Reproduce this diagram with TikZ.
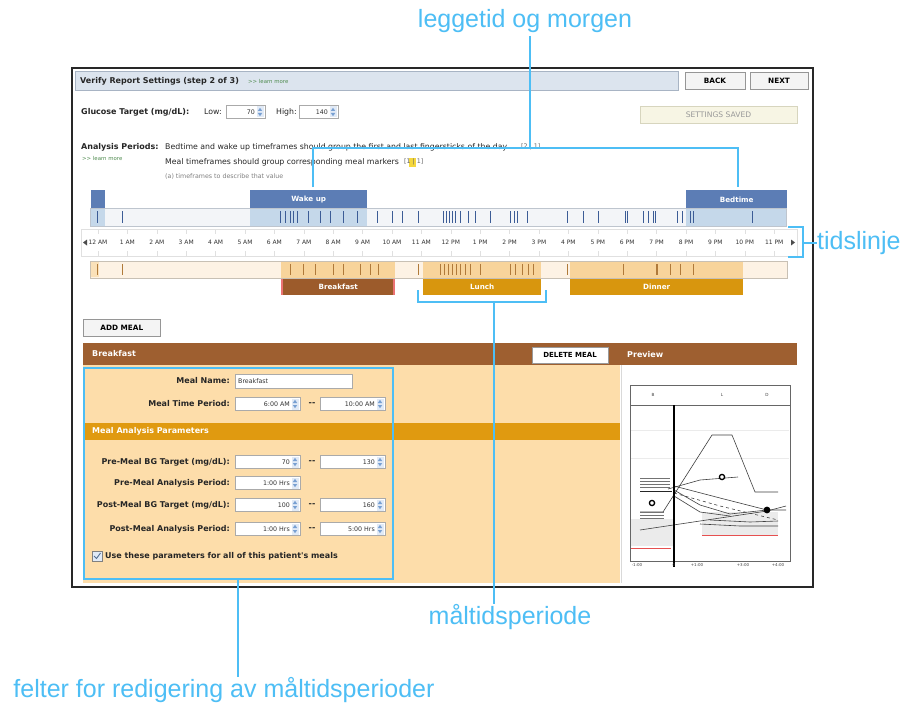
\documentclass[tikz,border=0pt]{standalone}
\usepackage{fontspec}
\setmainfont{Liberation Sans}
\newfontfamily\uifont{DejaVu Sans}
\usetikzlibrary{calc}

\definecolor{callout}{RGB}{77,190,245}
\definecolor{framegray}{RGB}{40,40,40}
\definecolor{titlebar}{RGB}{220,228,238}
\definecolor{titleline}{RGB}{168,180,196}
\definecolor{btnface}{RGB}{244,244,244}
\definecolor{btnline}{RGB}{150,150,150}
\definecolor{linkgreen}{RGB}{80,140,80}
\definecolor{savedbg}{RGB}{247,245,228}
\definecolor{savedline}{RGB}{215,213,190}
\definecolor{hdrblue}{RGB}{92,125,181}
\definecolor{paleblue}{RGB}{197,216,234}
\definecolor{trackbg}{RGB}{243,245,248}
\definecolor{trackline}{RGB}{190,197,206}
\definecolor{tickblue}{RGB}{60,92,150}
\definecolor{mealbg}{RGB}{253,242,228}
\definecolor{mealline}{RGB}{200,192,180}
\definecolor{mealblock}{RGB}{248,212,155}
\definecolor{tickbrown}{RGB}{176,122,58}
\definecolor{brownlbl}{RGB}{156,91,43}
\definecolor{goldlbl}{RGB}{216,150,14}
\definecolor{panelhdr}{RGB}{158,95,48}
\definecolor{peach}{RGB}{253,221,170}
\definecolor{goldbar}{RGB}{224,154,16}
\definecolor{fieldline}{RGB}{170,170,170}
\definecolor{spinblue}{RGB}{120,160,210}
\definecolor{spinbg}{RGB}{225,234,246}
\definecolor{chartred}{RGB}{230,80,80}
\definecolor{markyellow}{RGB}{245,215,60}

\tikzset{
  co/.style={draw=callout, line width=2.6pt},
  colabel/.style={text=callout, font=\fontsize{25}{28}\selectfont, inner sep=0pt},
  ui/.style={font=\uifont\fontsize{7.8}{8}\selectfont, inner sep=0pt, text=black!85},
  uib/.style={font=\uifont\bfseries\fontsize{8}{9}\selectfont, inner sep=0pt, text=black!85},
  uis/.style={font=\uifont\fontsize{6.3}{7}\selectfont, inner sep=0pt, text=black!80},
  uiw/.style={font=\uifont\bfseries\fontsize{8}{9}\selectfont, inner sep=0pt, text=white},
  blocklbl/.style={minimum height=16pt, inner sep=0pt, anchor=north west,
                   font=\uifont\bfseries\fontsize{7.2}{8}\selectfont, text=white},
  btn/.style={fill=btnface, draw=btnline, line width=0.6pt, inner sep=0pt,
              font=\uifont\bfseries\fontsize{7.3}{8}\selectfont},
  fieldbox/.style={fill=white, draw=fieldline, line width=0.5pt},
  tickb/.style={draw=tickblue, line width=0.7pt},
  tickm/.style={draw=tickbrown, line width=0.6pt},
  chartln/.style={draw=black!75, line width=0.6pt},
  charttxt/.style={inner sep=0pt, text=black!75, font=\uifont\fontsize{4.2}{5}\selectfont},
}

% spinner arrows at the right end of a field: x, y (centre)
\newcommand\spinner[2]{%
  \fill[spinbg] (#1-3.5,#2-5.5) rectangle (#1+3.5,#2+5.5);
  \fill[spinblue] (#1-2.2,#2-1) -- (#1+2.2,#2-1) -- (#1,#2-4.2) -- cycle;
  \fill[spinblue] (#1-2.2,#2+1) -- (#1+2.2,#2+1) -- (#1,#2+4.2) -- cycle;
}
% field with spinner: name, left x, right x, centre y, value
\newcommand\spinfield[5]{%
  \draw[fieldbox] (#2,#4-6.5) rectangle (#3,#4+6.5);
  \node[uis, anchor=east] (#1) at (#3-10,#4) {#5};
  \spinner{#3-5}{#4}
}

\begin{document}
\begin{tikzpicture}[x=1pt,y=-1pt]
\useasboundingbox (0,0) rectangle (904,706);
\fill[white] (0,0) rectangle (904,706);

% ---------- application window ----------
\fill[white] (72,68) rectangle (813,587);

% title bar and navigation buttons
\draw[fill=titlebar, draw=titleline, line width=0.5pt] (75,71) rectangle (678,90);
\node[uib, anchor=west] (title) at (80,81) {Verify Report Settings (step 2 of 3)};
\node[uis, anchor=west, text=linkgreen, font=\uifont\fontsize{5.4}{6}\selectfont] (learn1) at (248,81.5) {>> learn more};
\node[btn, minimum width=60pt, minimum height=17pt] (back) at (715,80.5) {BACK};
\node[btn, minimum width=58pt, minimum height=17pt] (next) at (779,80.5) {NEXT};

% glucose target
\node[uib, anchor=west] (gt) at (81,112) {Glucose Target (mg/dL):};
\node[ui, anchor=west] (low) at (204,112) {Low:};
\spinfield{lowv}{226}{265}{112}{70}
\node[ui, anchor=west] (high) at (276,112) {High:};
\spinfield{highv}{299}{338}{112}{140}
\node[draw=savedline, fill=savedbg, minimum width=157pt, minimum height=17pt, inner sep=0pt,
      font=\uifont\fontsize{7.6}{8}\selectfont, text=black!40] (saved) at (718.5,114.5) {SETTINGS SAVED};

% analysis periods
\node[uib, anchor=west] (ap) at (81,147) {Analysis Periods:};
\node[uis, anchor=west, text=linkgreen, font=\uifont\fontsize{5.4}{6}\selectfont] (learn2) at (82,158.5) {>> learn more};
\node[ui, anchor=west] (ap1) at (165,147) {Bedtime and wake up timeframes should group the first and last fingersticks of the day};
\node[uis, anchor=west, text=black!60] (ap1m) at (521,147) {[2 | 1]};
\node[ui, anchor=west] (ap2) at (165,162) {Meal timeframes should group corresponding meal markers};
\fill[markyellow] (409,157.5) rectangle (416,166.5);
\node[uis, anchor=west, text=black!60] (ap2m) at (404,162) {[1 | 1]};
\node[uis, anchor=west, text=black!50] (ap3) at (165,177) {(a) timeframes to describe that value};

% ---------- bedtime / wake-up track ----------
\draw[fill=trackbg, draw=trackline, line width=0.5pt] (90,208) rectangle (786,226);
\fill[hdrblue] (91,190) rectangle (105,208);
\fill[paleblue] (91,208) rectangle (105,226);
\node[blocklbl, fill=hdrblue, minimum width=117pt, minimum height=19pt] (wake) at (250,190) {Wake up};
\fill[paleblue] (250,209) rectangle (367,226);
\node[blocklbl, fill=hdrblue, minimum width=101pt, minimum height=19pt] (bed) at (686,190) {Bedtime};
\fill[paleblue] (686,209) rectangle (787,226);
\draw[trackline, line width=0.5pt] (90,208) rectangle (786,226);
\foreach \x in {97,122,280,285,290,293,297,308,320,330,343,357,377,392,402,418,443,446,449,452,455,460,468,475,490,510,514,517,527,567,583,598,625,627,643,648,653,655,677,682,690,693,752}
  \draw[tickb] (\x,211) -- (\x,223);

% ---------- hour axis ----------
\draw[draw=black!12, fill=white, line width=0.5pt] (81,229) rectangle (797,256);
\foreach \h in {0,...,23}
  \draw[black!12, line width=0.4pt] ({98+29.4*\h},229) -- ({98+29.4*\h},234)
                                    ({98+29.4*\h},251) -- ({98+29.4*\h},256);
\foreach \h/\t in {0/12 AM,1/1 AM,2/2 AM,3/3 AM,4/4 AM,5/5 AM,6/6 AM,7/7 AM,8/8 AM,9/9 AM,10/10 AM,11/11 AM,
                   12/12 PM,13/1 PM,14/2 PM,15/3 PM,16/4 PM,17/5 PM,18/6 PM,19/7 PM,20/8 PM,21/9 PM,22/10 PM,23/11 PM}
  \node[uis, font=\uifont\fontsize{6}{7}\selectfont] (hr\h) at ({98+29.4*\h},242.5) {\t};
\fill[black!70] (83,242.5) -- (87,239.5) -- (87,245.5) -- cycle;
\fill[black!70] (795,242.5) -- (791,239.5) -- (791,245.5) -- cycle;

% ---------- meal track ----------
\draw[fill=mealbg, draw=mealline, line width=0.5pt] (90,261) rectangle (787,278);
\fill[mealblock!70] (91,262) rectangle (99,277);
\fill[mealblock] (281,261) rectangle (395,278);
\fill[mealblock] (423,261) rectangle (541,278);
\fill[mealblock] (570,261) rectangle (743,278);
\draw[mealline, line width=0.5pt] (90,261) rectangle (787,278);
\foreach \x in {97,122,290,303,315,333,343,360,370,378,418,440,444,448,452,456,460,465,470,480,510,515,522,528,533,567,623,657,670,680,693}
  \draw[tickm] (\x,264) -- (\x,275);
\draw[tickm, line width=1.3pt] (657,264) -- (657,275);
\node[blocklbl, fill=brownlbl, minimum width=114pt] (bfast) at (281,279) {Breakfast};
\fill[chartred!80] (281,279) rectangle (283,295);
\fill[chartred!80] (393,279) rectangle (395,295);
\node[blocklbl, fill=goldlbl, minimum width=118pt] (lunch) at (423,279) {Lunch};
\node[blocklbl, fill=goldlbl, minimum width=173pt] (dinner) at (570,279) {Dinner};

% ---------- meal editor ----------
\node[btn, minimum width=77pt, minimum height=17pt, anchor=north west] (addmeal) at (83,319) {ADD MEAL};
\fill[peach] (83,365) rectangle (620,583);
\fill[panelhdr] (83,343) rectangle (797,365);
\node[uiw, anchor=west] (edhdr) at (92,354) {Breakfast};
\node[fill=white, draw=black!40, minimum width=76pt, minimum height=16pt, inner sep=0pt,
      font=\uifont\bfseries\fontsize{7}{8}\selectfont] (delmeal) at (570,355) {DELETE MEAL};
\node[uiw, anchor=west] (prev) at (627,355) {Preview};
\fill[goldbar] (83,423) rectangle (620,440);
\node[uiw, anchor=west] (map) at (92,431.5) {Meal Analysis Parameters};

% form rows
\node[uib, anchor=east] (l1) at (230,381) {Meal Name:};
\draw[fieldbox] (235,374) rectangle (352,388);
\node[uis, anchor=west] (mname) at (238,381) {Breakfast};
\node[uib, anchor=east] (l2) at (230,404) {Meal Time Period:};
\spinfield{t1}{235}{300}{404}{6:00 AM}
\node[uib] (d1) at (312,404) {--};
\spinfield{t2}{320}{385}{404}{10:00 AM}
\node[uib, anchor=east] (l3) at (230,462) {Pre-Meal BG Target (mg/dL):};
\spinfield{p1}{235}{300}{462}{70}
\node[uib] (d2) at (312,462) {--};
\spinfield{p2}{320}{385}{462}{130}
\node[uib, anchor=east] (l4) at (230,483) {Pre-Meal Analysis Period:};
\spinfield{p3}{235}{300}{483}{1:00 Hrs}
\node[uib, anchor=east] (l5) at (230,505) {Post-Meal BG Target (mg/dL):};
\spinfield{p4}{235}{300}{505}{100}
\node[uib] (d3) at (312,505) {--};
\spinfield{p5}{320}{385}{505}{160}
\node[uib, anchor=east] (l6) at (230,529) {Post-Meal Analysis Period:};
\spinfield{p6}{235}{300}{529}{1:00 Hrs}
\node[uib] (d4) at (312,529) {--};
\spinfield{p7}{320}{385}{529}{5:00 Hrs}
\draw[fill=spinbg, draw=black!50, line width=0.5pt] (92,551) rectangle (102,561);
\draw[spinblue!70!black, line width=0.9pt] (94,556) -- (96.5,558.5) -- (100.5,553);
\node[uib, anchor=west] (useall) at (105,556) {Use these parameters for all of this patient's meals};

% preview chart
\fill[white] (621,365) rectangle (797,583);
\draw[black!15, line width=0.5pt] (621,365) -- (621,583);
\draw[black!60, line width=0.6pt] (630,385) rectangle (790,561);
\draw[black!60, line width=0.6pt] (630,405) -- (790,405);
\node[charttxt] (cb) at (653,395) {B};
\node[charttxt] (cl) at (722,395) {L};
\node[charttxt] (cd) at (767,395) {D};
\fill[black!8] (631,519) rectangle (673,546);
\fill[black!8] (702,512) rectangle (778,535);
\draw[black!8, line width=0.4pt] (631,430) -- (789,430) (631,458) -- (789,458);
\draw[chartred, line width=0.7pt] (631,548) -- (671,548);
\draw[chartred, line width=0.7pt] (702,535) -- (778,535);
\draw[chartln] (640,512) -- (663,512) -- (712,435) -- (732,435) -- (755,492) -- (778,492);
\foreach \y in {478,481,484,487} \draw[black!55, line width=0.6pt] (640,\y) -- (670,\y);
\draw[black!85, line width=0.8pt] (640,491) -- (672,491);
\foreach \y in {512,515,518} \draw[black!55, line width=0.6pt] (640,\y) -- (664,\y);
\draw[chartln] (668,489) -- (700,480) -- (738,477);
\draw[chartln] (674,486) -- (720,498) -- (767,510) -- (786,510);
\draw[chartln] (674,490) -- (700,505) -- (730,514) -- (767,510);
\draw[chartln, dashed] (674,493) -- (720,506) -- (778,520);
\draw[chartln] (674,496) -- (700,512) -- (730,516);
\draw[chartln] (640,530) -- (700,521) -- (767,511) -- (786,506);
\draw[chartln] (700,524) -- (740,526) -- (778,526);
\draw[chartln] (710,520) -- (750,522) -- (778,521);
\draw[black, line width=1.2pt] (674,405) -- (674,567);
\draw[black, fill=white, line width=1.3pt] (722,477) circle (2.6pt);
\draw[black, fill=white, line width=1.3pt] (652,503) circle (2.6pt);
\fill[black] (767,510) circle (3.4pt);
\foreach \x/\t in {637/-1:00,674/0,697/+1:00,743/+3:00,778/+4:00}
  \node[charttxt, font=\uifont\fontsize{4}{5}\selectfont, anchor=north] (ax\x) at (\x,563) {\t};

% window frame
\draw[framegray, line width=1.6pt] (72,68) rectangle (813,587);

% ---------- callouts ----------
\node[colabel] (lblLegg) at (525,21) {leggetid og morgen};
\coordinate (wakeTop) at (313,187);
\coordinate (bedTop) at (738,187);
\coordinate (joinY) at (0,148);
\draw[co] (530,36) -- (530,148);
\draw[co] (wakeTop) -- (wakeTop |- joinY) -- (bedTop |- joinY) -- (bedTop);

\node[colabel, anchor=west] (lblTid) at (817,243) {tidslinje};
\coordinate (tlMid) at (803,243);
\draw[co] (788,227) -- (803,227) -- (803,257) -- (788,257);
\draw[co] (tlMid) -- (lblTid.west);

\node[colabel] (lblMal) at (510,617) {måltidsperiode};
\coordinate (malBr) at (494,302);
\draw[co] (418,290) -- (418,302) -- (546,302) -- (546,290);
\draw[co] (malBr) -- (malBr |- lblMal.north);

\node[colabel] (lblFelt) at (224,690) {felter for redigering av måltidsperioder};
\draw[co] (84,368) rectangle (393,579);
\coordinate (feltBot) at (238,579);
\draw[co] (feltBot) -- (feltBot |- lblFelt.north);
\end{tikzpicture}
\end{document}
